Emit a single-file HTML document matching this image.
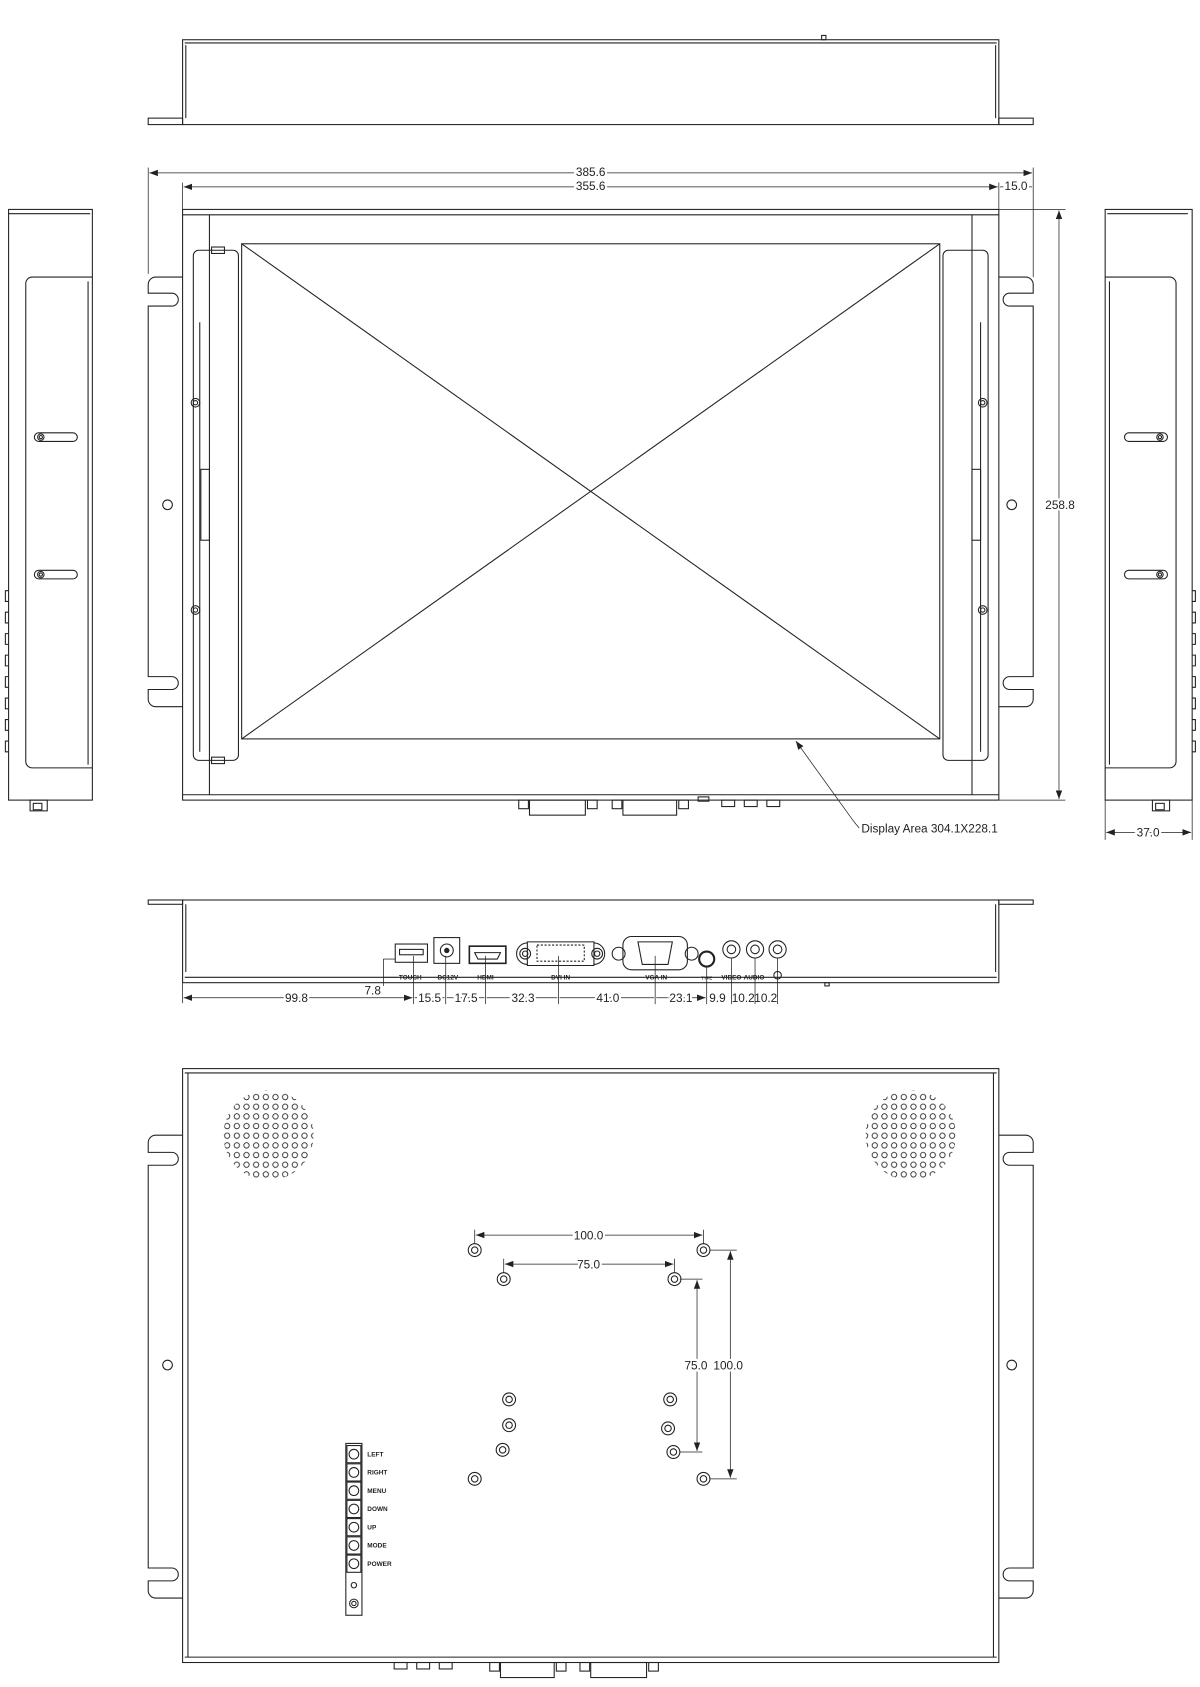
<!DOCTYPE html>
<html><head><meta charset="utf-8"><style>
html,body{margin:0;padding:0;background:#fff;}
svg{display:block;}
text{font-family:"Liberation Sans",sans-serif;fill:#222;}
</style></head><body>
<svg width="1200" height="1687" viewBox="0 0 1117.3 1570.8" preserveAspectRatio="none" xmlns="http://www.w3.org/2000/svg">
<defs>
<marker id="a" markerWidth="8" markerHeight="6" refX="8" refY="3" orient="auto" markerUnits="userSpaceOnUse"><path d="M0,0 L8,3 L0,6z" fill="#222"/></marker>
<marker id="b" markerWidth="8" markerHeight="6" refX="0" refY="3" orient="auto" markerUnits="userSpaceOnUse"><path d="M8,0 L0,3 L8,6z" fill="#222"/></marker>
<pattern id="dots" width="9" height="9" patternUnits="userSpaceOnUse"><circle cx="4.5" cy="4.5" r="2.5" fill="none" stroke="#222" stroke-width="0.8"/></pattern>
<clipPath id="c1"><circle cx="250" cy="1057" r="42"/></clipPath>
<clipPath id="c2"><circle cx="848" cy="1057" r="42"/></clipPath>
</defs>
<g fill="none" stroke="#222" stroke-width="1">
<rect x="170" y="37" width="760" height="79"/>
<line x1="172" y1="40" x2="928" y2="40"/>
<line x1="173" y1="42" x2="173" y2="110"/><line x1="927" y1="42" x2="927" y2="110"/>
<rect x="138" y="110" width="32" height="6"/><rect x="930" y="110" width="32" height="6"/>
<rect x="765" y="33" width="4" height="4"/>

<rect x="170" y="195" width="760" height="550"/>
<line x1="170" y1="200" x2="930" y2="200"/><line x1="170" y1="740" x2="930" y2="740"/>
<line x1="195" y1="200" x2="195" y2="740"/><line x1="905" y1="200" x2="905" y2="740"/>
<rect x="225" y="227" width="650" height="461"/>
<line x1="225" y1="227" x2="875" y2="688"/><line x1="875" y1="227" x2="225" y2="688"/>
<rect x="180" y="233" width="42" height="475" rx="5"/>
<rect x="878" y="233" width="42" height="475" rx="5"/>
<rect x="197" y="230" width="12" height="6"/><rect x="197" y="705" width="12" height="6"/>
<rect x="187" y="437" width="8" height="66"/><rect x="905" y="437" width="8" height="66"/>
<line x1="186" y1="300" x2="186" y2="700"/><line x1="913" y1="300" x2="913" y2="700"/>
<circle cx="182" cy="375" r="4"/><circle cx="182" cy="375" r="2"/>
<circle cx="182" cy="568" r="4"/><circle cx="182" cy="568" r="2"/>
<circle cx="915" cy="375" r="4"/><circle cx="915" cy="375" r="2"/>
<circle cx="915" cy="568" r="4"/><circle cx="915" cy="568" r="2"/>
<path d="M170,258 H145 a7,7 0 0 0 -7,7 V273 H160 a6,6 0 0 1 0,12 H138 V630 H160 a6,6 0 0 1 0,12 H138 V651 a7,7 0 0 0 7,7 H170"/>
<path d="M930,258 H955 a7,7 0 0 1 7,7 V273 H940 a6,6 0 0 0 0,12 H962 V630 H940 a6,6 0 0 0 0,12 H962 V651 a7,7 0 0 1 -7,7 H930"/>
<circle cx="156" cy="470" r="4.5"/><circle cx="942" cy="470" r="4.5"/>
<rect x="483" y="745" width="9" height="8"/><rect x="493" y="745" width="52" height="14"/><rect x="547" y="745" width="9" height="8"/>
<rect x="570" y="745" width="9" height="8"/><rect x="580" y="745" width="50" height="14"/><rect x="632" y="745" width="9" height="8"/>
<rect x="650" y="742" width="10" height="4"/><rect x="672" y="745" width="12" height="6"/><rect x="693" y="745" width="12" height="6"/><rect x="714" y="745" width="12" height="6"/>
<line x1="138" y1="156" x2="138" y2="255" stroke-width="0.7"/><line x1="962" y1="156" x2="962" y2="258" stroke-width="0.7"/>
<line x1="170" y1="170" x2="170" y2="195" stroke-width="0.7"/><line x1="930" y1="170" x2="930" y2="195" stroke-width="0.7"/>
<line x1="139" y1="161" x2="961" y2="161" stroke-width="0.7" marker-start="url(#b)" marker-end="url(#a)"/>
<line x1="171" y1="174" x2="929" y2="174" stroke-width="0.7" marker-start="url(#b)" marker-end="url(#a)"/>
<line x1="931" y1="174" x2="961" y2="174" stroke-width="0.7"/>
<line x1="930" y1="195" x2="992" y2="195" stroke-width="0.7"/><line x1="930" y1="745" x2="992" y2="745" stroke-width="0.7"/>
<line x1="986" y1="196" x2="986" y2="744" stroke-width="0.7" marker-start="url(#b)" marker-end="url(#a)"/>
<line x1="795" y1="765" x2="741" y2="690" stroke-width="0.7" marker-end="url(#a)"/>
<line x1="795" y1="765" x2="800" y2="771" stroke-width="0.7"/>

<rect x="8" y="195" width="78" height="550"/>
<line x1="8" y1="199" x2="84" y2="199"/>
<path d="M86,258 H30 a6,6 0 0 0 -6,6 V709 a6,6 0 0 0 6,6 H86"/>
<line x1="82" y1="262" x2="82" y2="712"/>
<rect x="32" y="403" width="40" height="8" rx="4"/><circle cx="38" cy="407" r="3"/><circle cx="38" cy="407" r="1.5"/>
<rect x="32" y="531" width="40" height="8" rx="4"/><circle cx="38" cy="535" r="3"/><circle cx="38" cy="535" r="1.5"/>
<path d="M8,550 H5 V560 H8 M8,570 H5 V580 H8 M8,590 H5 V600 H8 M8,610 H5 V620 H8 M8,630 H5 V640 H8 M8,650 H5 V660 H8 M8,670 H5 V680 H8 M8,690 H5 V700 H8"/>
<rect x="28" y="745" width="16" height="10"/><rect x="31" y="748" width="8" height="6"/>
<rect x="1029" y="195" width="81" height="550"/>
<line x1="1031" y1="199" x2="1106" y2="199"/>
<path d="M1029,258 H1089 a6,6 0 0 1 6,6 V709 a6,6 0 0 1 -6,6 H1029"/>
<line x1="1033" y1="262" x2="1033" y2="712"/>
<rect x="1047" y="403" width="40" height="8" rx="4"/><circle cx="1080" cy="407" r="3"/><circle cx="1080" cy="407" r="1.5"/>
<rect x="1047" y="531" width="40" height="8" rx="4"/><circle cx="1080" cy="535" r="3"/><circle cx="1080" cy="535" r="1.5"/>
<path d="M1110,550 H1113 V560 H1110 M1110,570 H1113 V580 H1110 M1110,590 H1113 V600 H1110 M1110,610 H1113 V620 H1110 M1110,630 H1113 V640 H1110 M1110,650 H1113 V660 H1110 M1110,670 H1113 V680 H1110 M1110,690 H1113 V700 H1110"/>
<rect x="1073" y="745" width="16" height="10"/><rect x="1076" y="748" width="8" height="6"/>
<line x1="1029" y1="745" x2="1029" y2="782" stroke-width="0.7"/><line x1="1110" y1="745" x2="1110" y2="782" stroke-width="0.7"/>
<line x1="1030" y1="775" x2="1109" y2="775" stroke-width="0.7" marker-start="url(#b)" marker-end="url(#a)"/>

<rect x="170" y="838" width="760" height="77"/>
<line x1="172" y1="910" x2="928" y2="910"/>
<line x1="173" y1="842" x2="173" y2="905"/><line x1="927" y1="842" x2="927" y2="905"/>
<rect x="138" y="838" width="32" height="4"/><rect x="930" y="838" width="32" height="4"/>
<rect x="768" y="915" width="4" height="3"/>
<rect x="368" y="879" width="30" height="17"/><rect x="372" y="884" width="22" height="5"/>
<rect x="404" y="873" width="24" height="24"/><circle cx="416" cy="885" r="6"/><circle cx="416" cy="885" r="2" fill="#222"/>
<rect x="437" y="881" width="34" height="16" stroke-width="1.5"/><path d="M442,887 H466 L463,893 H445Z"/>
<path d="M491,877 H553 V899 H491Z"/><path d="M481,888 a10,10 0 0 1 10,-10 M481,888 a10,10 0 0 0 10,10 M563,888 a10,10 0 0 0 -10,-10 M563,888 a10,10 0 0 1 -10,10"/>
<circle cx="489" cy="888" r="5"/><circle cx="489" cy="888" r="2.5"/><circle cx="556" cy="888" r="5"/><circle cx="556" cy="888" r="2.5"/>
<rect x="500" y="880" width="44" height="15" stroke-dasharray="2,1.5"/>
<path d="M588,872 H632 a8,8 0 0 1 8,8 V895 a8,8 0 0 1 -8,8 H588 a8,8 0 0 1 -8,-8 V880 a8,8 0 0 1 8,-8Z"/>
<path d="M594,877 H626 L622,898 H598Z"/>
<circle cx="576" cy="888" r="6"/><circle cx="644" cy="888" r="6"/>
<circle cx="658" cy="893" r="7" stroke-width="2"/>
<circle cx="681" cy="884" r="8"/><circle cx="681" cy="884" r="4"/>
<circle cx="703" cy="884" r="8"/><circle cx="703" cy="884" r="4"/>
<circle cx="724" cy="884" r="8"/><circle cx="724" cy="884" r="4"/>
<circle cx="724" cy="908" r="3.5"/>
<g stroke-width="0.7">
<line x1="170" y1="915" x2="170" y2="934"/>
<line x1="385" y1="890" x2="385" y2="935"/><line x1="415" y1="890" x2="415" y2="935"/>
<line x1="452" y1="890" x2="452" y2="935"/><line x1="520" y1="890" x2="520" y2="935"/>
<line x1="610" y1="890" x2="610" y2="935"/><line x1="658" y1="900" x2="658" y2="935"/>
<line x1="681" y1="892" x2="681" y2="935"/><line x1="703" y1="892" x2="703" y2="935"/><line x1="724" y1="892" x2="724" y2="935"/>
<line x1="171" y1="929" x2="384" y2="929" marker-start="url(#b)" marker-end="url(#a)"/>
<line x1="386" y1="929" x2="414" y2="929"/><line x1="416" y1="929" x2="451" y2="929"/>
<line x1="453" y1="929" x2="519" y2="929"/><line x1="521" y1="929" x2="609" y2="929"/>
<line x1="611" y1="929" x2="657" y2="929" marker-end="url(#a)"/>
<line x1="357" y1="893" x2="357" y2="918"/><line x1="357" y1="893" x2="368" y2="893"/><line x1="357" y1="910" x2="370" y2="910"/>
</g>

<rect x="170" y="995" width="760" height="553"/>
<line x1="172" y1="999" x2="928" y2="999"/><line x1="172" y1="1543" x2="928" y2="1543"/>
<line x1="175" y1="999" x2="175" y2="1543"/><line x1="925" y1="999" x2="925" y2="1543"/>
<path d="M170,1057 H145 a7,7 0 0 0 -7,7 V1073 H160 a6,6 0 0 1 0,12 H138 V1460 H160 a6,6 0 0 1 0,12 H138 V1481 a7,7 0 0 0 7,7 H170"/>
<path d="M930,1057 H955 a7,7 0 0 1 7,7 V1073 H940 a6,6 0 0 0 0,12 H962 V1460 H940 a6,6 0 0 0 0,12 H962 V1481 a7,7 0 0 1 -7,7 H930"/>
<circle cx="156" cy="1271" r="4.5"/><circle cx="942" cy="1271" r="4.5"/>
<rect x="200" y="1010" width="100" height="100" fill="url(#dots)" stroke="none" clip-path="url(#c1)"/>
<rect x="798" y="1010" width="100" height="100" fill="url(#dots)" stroke="none" clip-path="url(#c2)"/>
<g>
<circle cx="442" cy="1164" r="6"/><circle cx="442" cy="1164" r="3"/>
<circle cx="655" cy="1164" r="6"/><circle cx="655" cy="1164" r="3"/>
<circle cx="469" cy="1191" r="6"/><circle cx="469" cy="1191" r="3"/>
<circle cx="628" cy="1191" r="6"/><circle cx="628" cy="1191" r="3"/>
<circle cx="474" cy="1303" r="6"/><circle cx="474" cy="1303" r="3"/>
<circle cx="624" cy="1303" r="6"/><circle cx="624" cy="1303" r="3"/>
<circle cx="474" cy="1327" r="6"/><circle cx="474" cy="1327" r="3"/>
<circle cx="622" cy="1330" r="6"/><circle cx="622" cy="1330" r="3"/>
<circle cx="468" cy="1350" r="6"/><circle cx="468" cy="1350" r="3"/>
<circle cx="627" cy="1352" r="6"/><circle cx="627" cy="1352" r="3"/>
<circle cx="442" cy="1377" r="6"/><circle cx="442" cy="1377" r="3"/>
<circle cx="655" cy="1377" r="6"/><circle cx="655" cy="1377" r="3"/>
</g>
<g stroke-width="0.7">
<line x1="442" y1="1145" x2="442" y2="1158"/><line x1="655" y1="1145" x2="655" y2="1158"/>
<line x1="443" y1="1150" x2="654" y2="1150" marker-start="url(#b)" marker-end="url(#a)"/>
<line x1="469" y1="1172" x2="469" y2="1185"/><line x1="628" y1="1172" x2="628" y2="1185"/>
<line x1="470" y1="1177" x2="627" y2="1177" marker-start="url(#b)" marker-end="url(#a)"/>
<line x1="633" y1="1191" x2="654" y2="1191"/><line x1="633" y1="1352" x2="654" y2="1352"/>
<line x1="649" y1="1192" x2="649" y2="1351" marker-start="url(#b)" marker-end="url(#a)"/>
<line x1="661" y1="1164" x2="686" y2="1164"/><line x1="661" y1="1377" x2="686" y2="1377"/>
<line x1="680" y1="1165" x2="680" y2="1376" marker-start="url(#b)" marker-end="url(#a)"/>
</g>
<rect x="322" y="1344" width="15" height="160"/>
<g>
<rect x="323" y="1346" width="13" height="16"/><circle cx="329.5" cy="1354" r="4.5"/>
<rect x="323" y="1363" width="13" height="16"/><circle cx="329.5" cy="1371" r="4.5"/>
<rect x="323" y="1380" width="13" height="16"/><circle cx="329.5" cy="1388" r="4.5"/>
<rect x="323" y="1397" width="13" height="16"/><circle cx="329.5" cy="1405" r="4.5"/>
<rect x="323" y="1414" width="13" height="16"/><circle cx="329.5" cy="1422" r="4.5"/>
<rect x="323" y="1431" width="13" height="16"/><circle cx="329.5" cy="1439" r="4.5"/>
<rect x="323" y="1448" width="13" height="16"/><circle cx="329.5" cy="1456" r="4.5"/>
<circle cx="329.5" cy="1476" r="2.5"/>
<circle cx="329.5" cy="1493" r="4"/><circle cx="329.5" cy="1493" r="2"/>
</g>
<rect x="367" y="1548" width="12" height="6"/><rect x="388" y="1548" width="12" height="6"/><rect x="409" y="1548" width="12" height="6"/>
<rect x="456" y="1548" width="9" height="8"/><rect x="466" y="1548" width="50" height="14"/><rect x="518" y="1548" width="9" height="8"/>
<rect x="540" y="1548" width="9" height="8"/><rect x="550" y="1548" width="52" height="14"/><rect x="604" y="1548" width="9" height="8"/>
</g>

<g font-size="10">
<text x="550" y="164" text-anchor="middle" font-size="11" stroke="#fff" stroke-width="4" paint-order="stroke">385.6</text>
<text x="550" y="177" text-anchor="middle" font-size="11" stroke="#fff" stroke-width="4" paint-order="stroke">355.6</text>
<text x="946" y="177" text-anchor="middle" font-size="11" stroke="#fff" stroke-width="4" paint-order="stroke">15.0</text>
<text x="987" y="474" text-anchor="middle" font-size="11" stroke="#fff" stroke-width="4" paint-order="stroke">258.8</text>
<text x="1069" y="779" text-anchor="middle" font-size="11" stroke="#fff" stroke-width="4" paint-order="stroke">37.0</text>
<text x="802" y="775" font-size="11">Display Area  304.1X228.1</text>
<g font-size="6" font-weight="bold">
<text x="382" y="912" text-anchor="middle">TOUCH</text>
<text x="417" y="912" text-anchor="middle">DC12V</text>
<text x="452" y="912" text-anchor="middle">HDMI</text>
<text x="522" y="912" text-anchor="middle">DVI IN</text>
<text x="611" y="912" text-anchor="middle">VGA IN</text>
<text x="658" y="912" text-anchor="middle" font-size="4">TYPE</text>
<text x="681" y="912" text-anchor="middle">VIDEO</text>
<text x="702" y="912" text-anchor="middle">AUDIO</text>
</g>
<g font-size="11" stroke="#fff" stroke-width="4" paint-order="stroke">
<text x="276" y="933" text-anchor="middle">99.8</text>
<text x="347" y="926" text-anchor="middle">7.8</text>
<text x="400" y="933" text-anchor="middle">15.5</text>
<text x="434" y="933" text-anchor="middle">17.5</text>
<text x="487" y="933" text-anchor="middle">32.3</text>
<text x="566" y="933" text-anchor="middle">41.0</text>
<text x="634" y="933" text-anchor="middle">23.1</text>
<text x="668" y="933" text-anchor="middle" stroke="none">9.9</text>
<text x="692" y="933" text-anchor="middle" stroke="none">10.2</text>
<text x="713" y="933" text-anchor="middle" stroke="none">10.2</text>
<text x="548" y="1154" text-anchor="middle">100.0</text>
<text x="548" y="1181" text-anchor="middle">75.0</text>
<text x="648" y="1275" text-anchor="middle">75.0</text>
<text x="678" y="1275" text-anchor="middle">100.0</text>
</g>
<g font-size="6" font-weight="bold">
<text x="342" y="1356">LEFT</text>
<text x="342" y="1373">RIGHT</text>
<text x="342" y="1390">MENU</text>
<text x="342" y="1407">DOWN</text>
<text x="342" y="1424">UP</text>
<text x="342" y="1441">MODE</text>
<text x="342" y="1458">POWER</text>
</g>
</g>
</svg>
</body></html>
